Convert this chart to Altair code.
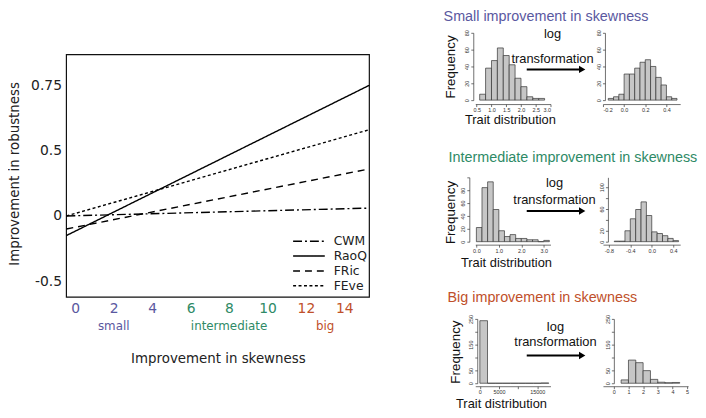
import altair as alt
import pandas as pd

# ---------------- main panel: fitted lines ----------------
indices = ["CWM", "RaoQ", "FRic", "FEve"]
skew_start = -0.46
skew_end = 15.3
robust_start = [0.0, -0.15, -0.10, 0.0]
robust_end = [0.06, 0.75, 0.36, 0.58]

small_ticks = [0, 2, 4]
intermediate_ticks = [6, 8, 10]
big_ticks = [12, 14]
group_names = ["small", "intermediate", "big"]
robust_ticks = [-0.5, 0, 0.5, 0.75]
robust_low, robust_high = -0.621, 0.867   # frame limits of the panel

# ---------------- histograms (breaks + counts) ----------------
row_titles = ["Small improvement in skewness",
              "Intermediate improvement in skewness",
              "Big improvement in skewness"]

small_before_breaks = [0.6, 0.8, 1.0, 1.2, 1.4, 1.6, 1.8, 2.0, 2.2, 2.4, 2.6, 2.8]
small_before_counts = [7, 38, 47, 62, 53, 42, 26, 16, 4, 2, 2]
small_after_breaks = [-0.15, -0.10, -0.05, 0.0, 0.05, 0.10, 0.15, 0.20, 0.25, 0.30, 0.35, 0.40, 0.45, 0.50]
small_after_counts = [2, 4, 7, 31, 31, 38, 45, 48, 40, 27, 18, 4, 2]

inter_before_breaks = [0.0, 0.25, 0.5, 0.75, 1.0, 1.25, 1.5, 1.75, 2.0, 2.25, 2.5, 2.75, 3.0, 3.25]
inter_before_counts = [22, 84, 93, 50, 17, 8, 11, 5, 5, 3, 3, 0, 2]
inter_after_breaks = [-0.7, -0.6, -0.5, -0.4, -0.3, -0.2, -0.1, 0.0, 0.1, 0.2, 0.3, 0.4, 0.5]
inter_after_counts = [1, 1, 20, 42, 59, 73, 48, 18, 15, 11, 6, 2]

big_before_breaks = [0, 2000, 4000, 6000, 8000, 10000, 12000, 14000, 16000, 18000]
big_before_counts = [243, 0, 0, 0, 0, 0, 0, 0, 1]
big_after_breaks = [0.5, 1.0, 1.5, 2.0, 2.5, 3.0, 3.5, 4.0, 4.5]
big_after_counts = [13, 90, 80, 49, 15, 4, 2, 3]

# ---------------- styles ----------------
group_colors = ["#5a58a0", "#2e8a66", "#c0502a"]
dash_patterns = [[9, 3, 2, 3], [1, 0], [7, 5], [3, 2.5]]
MAIN_FONT = "DejaVu Sans"
SIDE_FONT = "Liberation Sans"

# ================= main panel =================
W = 306
F = 22            # empty band above the framed panel
PH = 245          # framed panel height
H = F + PH
rows = []
for name, a, b in zip(indices, robust_start, robust_end):
    rows.append({"index": name, "skew": skew_start, "robust": a})
    rows.append({"index": name, "skew": skew_end, "robust": b})
line_df = pd.DataFrame(rows)

# the reference's y axis spaces -0.5, 0, 0.5, 0.75 evenly (piecewise linear scale)
y_domain = [robust_low, -0.5, 0, 0.5, 0.75, robust_high]
y_range = [H, F + 229, F + 163, F + 97, F + 31, F]
y_scale = alt.Scale(domain=y_domain, range=y_range, nice=False, zero=False)

all_ticks = small_ticks + intermediate_ticks + big_ticks
label_color_expr = (f"datum.value <= {max(small_ticks)} ? '{group_colors[0]}' : "
                    f"datum.value <= {max(intermediate_ticks)} ? '{group_colors[1]}' : '{group_colors[2]}'")

x_scale = alt.Scale(domain=[skew_start, skew_end], nice=False, zero=False)

lines = alt.Chart(line_df).mark_line(color="black", strokeWidth=1.4).encode(
    x=alt.X("skew:Q", scale=x_scale,
            axis=alt.Axis(values=all_ticks, ticks=False, domain=False, grid=False,
                          labelPadding=5, labelFontSize=14, labelFont=MAIN_FONT,
                          labelColor={"expr": label_color_expr}, labelOverlap=False,
                          labelExpr="toString(datum.value)",
                          title="Improvement in skewness", titleFont=MAIN_FONT,
                          titleFontSize=13.5, titleFontWeight="normal", titleColor="#222",
                          titleY=62, titleBaseline="middle", titleAlign="center")),
    y=alt.Y("robust:Q", scale=y_scale,
            axis=alt.Axis(values=robust_ticks, ticks=False, domain=False, grid=False,
                          labelPadding=5, labelFontSize=14, labelFont=MAIN_FONT, labelColor="#222",
                          labelExpr="datum.value < 0 ? '-' + toString(-datum.value) : toString(datum.value)",
                          title="Improvement in robustness", titleFont=MAIN_FONT, titleFontSize=13.5,
                          titleFontWeight="normal", titleColor="#222", titleAngle=270,
                          titleX=-52, titleY=F + 120, titleAlign="center", titleBaseline="middle")),
    strokeDash=alt.StrokeDash("index:N", scale=alt.Scale(domain=indices, range=dash_patterns),
                              legend=alt.Legend(title=None, orient="none", legendX=228, legendY=F + 182,
                                                direction="vertical", symbolType="stroke",
                                                symbolSize=1024, symbolStrokeWidth=1.5,
                                                symbolStrokeColor="black", labelFont=MAIN_FONT,
                                                labelFontSize=12.5, labelColor="#222",
                                                labelOffset=8, rowPadding=2, padding=0,
                                                clipHeight=13)),
)

frame_df = pd.DataFrame({"x0": [skew_start], "x1": [skew_end], "y0": [robust_low], "y1": [robust_high]})
frame = alt.Chart(frame_df).mark_rect(fillOpacity=0, stroke="#111", strokeWidth=1.2).encode(
    x=alt.X("x0:Q", scale=x_scale), x2="x1:Q",
    y=alt.Y("y0:Q", scale=y_scale), y2="y1:Q",
)

group_df = pd.DataFrame({
    "group": group_names,
    "center": [sum(small_ticks) / len(small_ticks),
               sum(intermediate_ticks) / len(intermediate_ticks),
               sum(big_ticks) / len(big_ticks)],
})
group_labels = alt.Chart(group_df).mark_text(font=MAIN_FONT, fontSize=12, baseline="middle").encode(
    x=alt.X("center:Q", scale=x_scale),
    y=alt.value(H + 29),
    text="group:N",
    color=alt.Color("group:N", scale=alt.Scale(domain=group_names, range=group_colors), legend=None),
)

main = alt.layer(frame, lines, group_labels).properties(width=W, height=H)


# ================= histograms =================
def label_expr(show, fmt):
    arr = "[" + ",".join(repr(v) for v in show) + "]"
    return (f"indexof({arr}, datum.value) >= 0 ? "
            f"replace(format(datum.value, '{fmt}'), '\u2212', '-') : ''")


AX = dict(tickSize=2.5, tickWidth=0.7, tickColor="#333", domainColor="#333", domainWidth=0.7,
          labelFontSize=5.5, labelColor="#333", labelFont=SIDE_FONT, labelPadding=1,
          labelOverlap=False, grid=False)


def histogram(breaks, counts, xdom, xticks, xshow, xfmt, ydom, yticks, yshow,
              width, height, y_off, x_off, titles=None):
    df = pd.DataFrame({"lo": breaks[:-1], "hi": breaks[1:], "n": counts})
    if titles:
        fx, fy, tx, ty = titles
        xt = dict(title="Trait distribution", titleFont=SIDE_FONT, titleFontSize=13,
                  titleFontWeight="normal", titleColor="#111", titleX=tx, titleY=ty,
                  titleAlign="center", titleBaseline="middle")
        yt = dict(title="Frequency", titleFont=SIDE_FONT, titleFontSize=13.5,
                  titleFontWeight="normal", titleColor="#111", titleAngle=270,
                  titleX=fx, titleY=fy, titleAlign="center", titleBaseline="middle")
    else:
        xt = dict(title=None)
        yt = dict(title=None)
    bars = alt.Chart(df).mark_rect(fill="#c6c6c6", stroke="#333333", strokeWidth=0.7).encode(
        x=alt.X("lo:Q", scale=alt.Scale(domain=xdom, nice=False, zero=False),
                axis=alt.Axis(values=xticks, labelExpr=label_expr(xshow, xfmt), offset=x_off,
                              labelAngle=0, **AX, **xt)),
        x2="hi:Q",
        y=alt.Y("n:Q", scale=alt.Scale(domain=ydom, nice=False, zero=False),
                axis=alt.Axis(values=yticks, labelExpr=label_expr(yshow, "d"), offset=y_off,
                              labelAngle=270, **AX, **yt)),
        y2=alt.datum(0),
    )
    return bars.properties(width=width, height=height)


def annotations(title, color, title_xy, log_xy, trans_xy, arrow_y):
    one = pd.DataFrame({"k": [0]})
    t = alt.Chart(one).mark_text(text=title, align="left", baseline="middle", font=SIDE_FONT,
                                 fontSize=14.5, color=color).encode(
        x=alt.value(title_xy[0]), y=alt.value(title_xy[1]))
    l1 = alt.Chart(one).mark_text(text="log", align="center", baseline="middle", font=SIDE_FONT,
                                  fontSize=13, color="#111").encode(
        x=alt.value(log_xy[0]), y=alt.value(log_xy[1]))
    l2 = alt.Chart(one).mark_text(text="transformation", align="center", baseline="middle",
                                  font=SIDE_FONT, fontSize=13, color="#111").encode(
        x=alt.value(trans_xy[0]), y=alt.value(trans_xy[1]))
    shaft = alt.Chart(one).mark_rule(color="black", strokeWidth=2).encode(
        x=alt.value(-77), x2=alt.value(-23), y=alt.value(arrow_y))
    head = alt.Chart(one).mark_point(shape="triangle-right", filled=True, size=55,
                                     color="black", opacity=1).encode(
        x=alt.value(-21), y=alt.value(arrow_y))
    return [t, l1, l2, shaft, head]


hL1 = histogram(small_before_breaks, small_before_counts, [0.45, 3.0],
                [0.5, 1.0, 1.5, 2.0, 2.5, 3.0], [0.5, 1.0, 1.5, 2.0, 2.5, 3.0], ".1f",
                [0, 80], [0, 20, 40, 60, 80], [0, 20, 40, 60, 80],
                76, 68, 2, 4, titles=(-23, 34, 35, 16))
hR1 = alt.layer(
    histogram(small_after_breaks, small_after_counts, [-0.2, 0.53],
              [-0.2, 0.0, 0.2, 0.4], [-0.2, 0.0, 0.2, 0.4], ".1f",
              [0, 80], [0, 20, 40, 60, 80], [0, 20, 40, 60, 80], 78, 68, -2, 4),
    *annotations(row_titles[0], group_colors[0], (-161, -16), (-51, 1), (-51, 26), 37),
).properties(width=78, height=68)

hL2 = histogram(inter_before_breaks, inter_before_counts, [-0.05, 3.3],
                [0, 1, 2, 3], [0, 1, 2, 3], ".1f",
                [0, 100], [0, 20, 40, 60, 80, 100], [0, 20, 40, 60, 80],
                76, 65, 6, 3, titles=(-19, 35, 31, 18))
hR2 = alt.layer(
    histogram(inter_after_breaks, inter_after_counts, [-0.91, 0.53],
              [-0.8, -0.4, 0.0, 0.4], [-0.8, -0.4, 0.0, 0.4], ".1f",
              [0, 118], [0, 20, 40, 60, 80, 100], [0, 20, 60, 100], 78, 65, -5, 3),
    *annotations(row_titles[1], group_colors[1], (-156, -19), (-49, 6), (-49, 23), 34),
).properties(width=78, height=65)

hL3 = histogram(big_before_breaks, big_before_counts, [-1200, 18450],
                [0, 5000, 10000, 15000], [0, 5000, 15000], "d",
                [0, 250], [0, 50, 100, 150, 200, 250], [0, 50, 150, 250],
                76, 65, -2, 3, titles=(-22, 33, 26, 18))
hR3 = alt.layer(
    histogram(big_after_breaks, big_after_counts, [-0.74, 5.07],
              [0, 1, 2, 3, 4, 5], [0, 1, 2, 3, 4, 5], "d",
              [0, 250], [0, 50, 100, 150, 200, 250], [0, 50, 150, 250], 86, 65, -11, 3),
    *annotations(row_titles[2], group_colors[2], (-157, -21), (-48, 8), (-48, 23), 37),
).properties(width=86, height=65)

right_grid = alt.concat(hL1, hR1, hL2, hR2, hL3, hR3, columns=2, bounds="flush", align="each",
                        spacing={"row": 78, "column": 53})

chart = alt.hconcat(main, right_grid, spacing=72).resolve_scale(
    strokeDash="independent", color="independent"
).properties(
    padding={"left": 0, "top": -1, "right": 0, "bottom": 0}
).configure(background="white").configure_view(stroke=None)

chart.save("out.html", embed_options={"renderer": "svg", "actions": False})
